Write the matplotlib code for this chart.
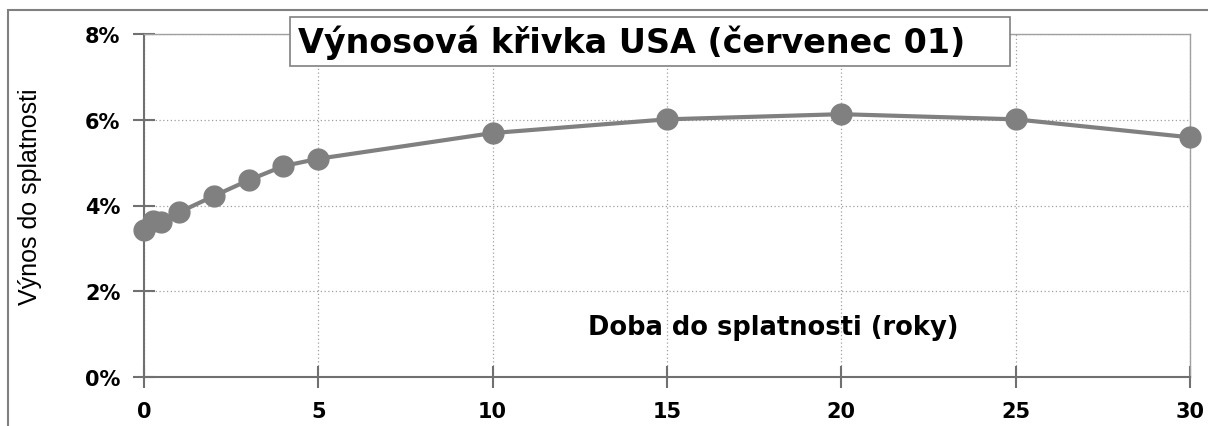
import matplotlib
matplotlib.use("Agg")
import matplotlib.pyplot as plt
from matplotlib.ticker import FuncFormatter
from matplotlib.patches import Rectangle
from matplotlib import font_manager

maturities = [0, 0.25, 0.5, 1, 2, 3, 4, 5, 10, 15, 20, 25, 30]
yields = [3.43, 3.64, 3.62, 3.84, 4.22, 4.59, 4.92, 5.09, 5.69, 6.01, 6.13, 6.01, 5.59]
x_ticks = [0, 5, 10, 15, 20, 25, 30]
y_ticks = [0, 2, 4, 6, 8]
title = "Výnosová křivka USA (červenec 01)"
xlabel = "Doba do splatnosti (roky)"
ylabel = "Výnos do splatnosti"

names = {f.name for f in font_manager.fontManager.ttflist}
narrow = "Liberation Sans Narrow" if "Liberation Sans Narrow" in names else "Liberation Sans"

plt.rcParams['font.family'] = ['DejaVu Sans']

W, H = 1208, 427
fig = plt.figure(figsize=(W/100, H/100), dpi=100)
fig.patch.set_facecolor('white')
fig.patches.append(Rectangle((8/W, -0.2), 2, 1.2 - 11/H, transform=fig.transFigure,
                             fill=False, edgecolor='#808080', linewidth=1.5))

ax = fig.add_axes([144/W, 1 - 378/H, (1190-144)/W, (378-35)/H])
ax.plot(maturities, yields, color='#808080', linewidth=3, marker='o',
        markersize=15, markerfacecolor='#808080', markeredgecolor='#808080', zorder=3,
        clip_on=False)
ax.set_xlim(0, 30)
ax.set_ylim(0, 8)
ax.set_xticks(x_ticks)
ax.set_yticks(y_ticks)
ax.yaxis.set_major_formatter(FuncFormatter(lambda v, p: f"{int(v)}%"))
ax.grid(True, color='#a0a0a0', linestyle=(0, (1, 2)), linewidth=0.9)
ax.set_axisbelow(True)
for s in ['top', 'right']:
    ax.spines[s].set_color('#a0a0a0')
    ax.spines[s].set_linewidth(1.0)
for s in ['left', 'bottom']:
    ax.spines[s].set_color('#707070')
    ax.spines[s].set_linewidth(1.5)
ax.tick_params(axis='both', direction='inout', length=16, width=1.5, color='#707070',
               labelsize=15)
ax.tick_params(axis='y', pad=9)
ax.tick_params(axis='x', pad=9)
for lab in ax.get_xticklabels() + ax.get_yticklabels():
    lab.set_fontweight('bold')

fig.text(773/W, 1 - 328/H, xlabel, ha='center', va='center',
         fontsize=18.5, fontweight='bold')
fig.text(30/W, 1 - 197/H, ylabel, rotation=90, ha='center', va='center',
         fontsize=18, family=narrow)

fig.patches.append(Rectangle((290/W, 1 - 67/H), 720/W, 49/H, transform=fig.transFigure,
                             facecolor='white', edgecolor='#808080', linewidth=1.2,
                             zorder=5))
fig.text(298/W, 1 - 43/H, title, ha='left', va='center', fontsize=24,
         fontweight='bold', zorder=6)

fig.savefig('out.png', dpi=100)
